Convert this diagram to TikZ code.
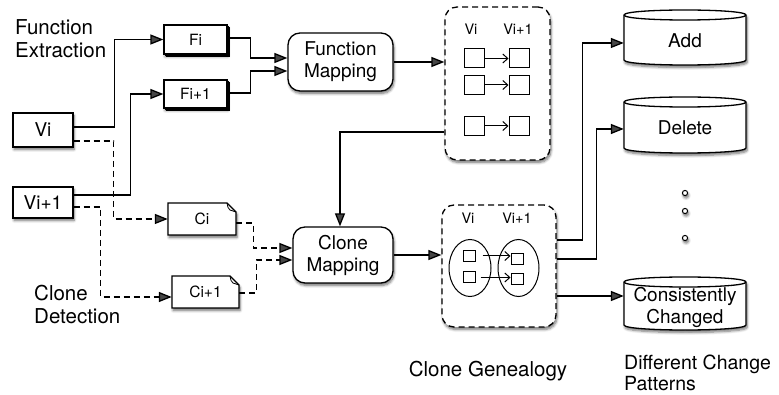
\documentclass[tikz,border=0pt]{standalone}
\usepackage{fontspec}
\setmainfont{TeX Gyre Heros}
\usetikzlibrary{arrows.meta,shadows,shadows.blur,shapes.geometric,calc}
\tikzset{
 shad/.style={blur shadow={shadow xshift=1pt, shadow yshift=-2.5pt, shadow blur steps=6, shadow opacity=55, shadow blur radius=2.5pt}},
 ln/.style={line width=1.3pt},
 arr/.style={ln, -{Triangle[length=13pt,width=10pt]}},
 darr/.style={arr, dash pattern=on 6pt off 4pt},
 barb/.style={line width=1pt, -{Straight Barb[length=5pt,width=9pt,line width=1pt]}},
 bigfont/.style={font=\fontsize{20.5}{23}\selectfont},
 boxfont/.style={font=\fontsize{19}{22}\selectfont},
 smallfont/.style={font=\fontsize{15.5}{18}\selectfont},
 tinyfont/.style={font=\fontsize{14.5}{16}\selectfont},
 vbox/.style={draw, ln, fill=white, shad, inner sep=0pt, boxfont},
 mdoc/.style={draw, ln, fill=white, shad, double copy shadow={shadow xshift=1.3pt, shadow yshift=-1.3pt}, inner sep=0pt, smallfont},
 docnode/.style={inner sep=0pt, smallfont},
 rbox/.style={draw, ln, fill=white, rounded corners=12pt, shad, align=center, inner sep=0pt, boxfont},
 cont/.style={draw, ln, dash pattern=on 6pt off 4pt, rounded corners=12pt, fill=white, shad, inner sep=0pt},
 sq/.style={draw, line width=1pt, fill=white, inner sep=0pt, minimum width=20pt, minimum height=19pt},
 sqs/.style={draw, line width=1pt, fill=white, inner sep=0pt, minimum width=12pt, minimum height=11pt},
 ell/.style={draw, ellipse, line width=1pt, inner sep=0pt},
 lbl/.style={inner sep=0pt, bigfont},
 cylnode/.style={inner sep=0pt, align=center, boxfont},
}
\newcommand\cylshape[4]{%
 \filldraw[ln, fill=white, shad] (#1,#2+5) -- (#1,#4-5) .. controls (#1,#4+1.67) and (#3,#4+1.67) .. (#3,#4-5) -- (#3,#2+5) .. controls (#3,#2-1.67) and (#1,#2-1.67) .. cycle;
 \draw[ln] (#1,#2+5) .. controls (#1,#2+11.67) and (#3,#2+11.67) .. (#3,#2+5);
}
\newcommand\docshape[4]{%
 \filldraw[ln, fill=white, shad] (#1,#4) -- (#1,#2) -- (#3-9,#2) -- (#3,#2+9) -- (#3,#4) -- cycle;
 \draw[line width=0.8pt] (#3-9,#2) .. controls (#3-8,#2+5) .. (#3-6,#2+7) -- (#3,#2+9);
}
\begin{document}
\begin{tikzpicture}[x=1pt,y=-1pt]
\useasboundingbox (0,0) rectangle (779,395);

% left labels
\node[lbl, anchor=west, align=left] (fe) at (15,38.5) {Function\\Extraction};
\node[lbl, anchor=west, align=left] (cd) at (34,304) {Clone\\Detection};

% versions
\node[vbox, minimum width=60pt, minimum height=34pt] (Vi) at (43,130) {Vi};
\node[vbox, minimum width=60pt, minimum height=31pt] (Vi1) at (43,202.5) {Vi+1};

% function files
\node[mdoc, minimum width=63pt, minimum height=29pt] (Fi) at (195.5,39.5) {Fi};
\node[mdoc, minimum width=63pt, minimum height=28pt] (Fi1) at (195.5,94) {Fi+1};

% clone files
\docshape{168}{203}{236}{235}
\node[docnode, minimum width=68pt, minimum height=32pt] (Ci) at (202,219) {Ci};
\docshape{172}{276}{239}{308}
\node[docnode, minimum width=67pt, minimum height=32pt] (Ci1) at (205.5,292) {Ci+1};

% mapping boxes
\node[rbox, minimum width=105pt, minimum height=58pt] (FM) at (340.5,62) {Function\\Mapping};
\node[rbox, minimum width=100pt, minimum height=56pt] (CM) at (343,255) {Clone\\Mapping};

% containers
\node[cont, minimum width=105pt, minimum height=153pt] (B1) at (497.5,83.5) {};
\node[cont, minimum width=114pt, minimum height=122pt] (B2) at (499,266) {};

% box 1 content
\node[tinyfont, inner sep=0pt] (b1vi) at (471,29) {Vi};
\node[tinyfont, inner sep=0pt] (b1vj) at (518,29) {Vi+1};
\node[sq] (a1) at (474,58.5) {};
\node[sq] (c1) at (519,58.5) {};
\node[sq] (a2) at (474,85) {};
\node[sq] (c2) at (519,85) {};
\node[sq] (a3) at (474,126) {};
\node[sq] (c3) at (519,126) {};
\draw[barb] (a1.east) -- (c1.west);
\draw[barb] (a2.east) -- (c2.west);
\draw[barb] (a3.east) -- (c3.west);

% box 2 content
\node[tinyfont, inner sep=0pt] (b2vi) at (468,218) {Vi};
\node[tinyfont, inner sep=0pt] (b2vj) at (517,218) {Vi+1};
\node[ell, minimum width=42pt, minimum height=57pt] (eL) at (470,268) {};
\node[ell, minimum width=41pt, minimum height=57pt] (eR) at (518.5,268) {};
\node[sqs] (p1) at (469,256) {};
\node[sqs] (p2) at (469,277.5) {};
\node[sqs] (q1) at (517,259) {};
\node[sqs] (q2) at (517,279) {};
\draw[barb] ([xshift=7pt]p1.east) -- (p1.east -| q1.west);
\draw[barb] ([xshift=5pt]p2.east) -- (p2.east -| q2.west);

% cylinders
\cylshape{624}{10}{746}{65}
\node[cylnode, minimum width=122pt, minimum height=40pt] (Add) at (685,41) {Add};
\cylshape{624}{97}{746}{153}
\node[cylnode, minimum width=122pt, minimum height=41pt] (Del) at (685,128) {Delete};
\cylshape{624}{277}{746}{330}
\node[cylnode, minimum width=122pt, minimum height=38pt] (CC) at (685,307) {Consistently\\Changed};

% dots
\foreach \yy in {193,211,238}{
 \draw[line width=1pt, fill=white, shad] (685,\yy) circle[radius=2.6pt];
}

% bottom labels
\node[lbl] (cg) at (488,371) {Clone Genealogy};
\node[lbl, anchor=west, align=left, font=\fontsize{19.5}{20.5}\selectfont] (dc) at (624,373) {Different Change\\Patterns};

% connectors
\draw[arr] ([yshift=3pt]Vi.east) -- ++(41,0) |- (Fi.west);
\draw[arr] ([yshift=7.5pt]Vi1.east) -- ++(57,0) |- (Fi1.west);
\draw[darr] ([yshift=-11pt]Vi.east) -- ++(40,0) |- (Ci.west);
\draw[darr] ([yshift=-4.5pt]Vi1.east) -- ++(27,0) |- ([yshift=-5pt]Ci1.west);

\draw[arr] ([yshift=1.5pt]Fi.east) -- ++(23,0) |- ([yshift=4pt]FM.west);
\draw[arr] ([yshift=1pt]Fi1.east) -- ++(23,0) |- ([yshift=-9pt]FM.west);
\draw[darr] ([yshift=-4pt]Ci.east) -- ++(17,0) |- ([yshift=7pt]CM.west);
\draw[darr] ([yshift=-1pt]Ci1.east) -- ++(17,0) |- ([yshift=-5pt]CM.west);

\draw[arr] (FM.east) -- (FM.east -| B1.west);
\draw[arr] ([yshift=-48.5pt]B1.west) -| ([xshift=-3pt]CM.north);
\draw[arr] (CM.east) -- (CM.east -| B2.west);

\draw[arr] ([yshift=26pt]B2.east) -- ++(26,0) |- ([yshift=-2pt]Add.west);
\draw[arr] ([yshift=7pt]B2.east) -- ++(40,0) |- ([yshift=-1pt]Del.west);
\draw[arr] ([yshift=-30pt]B2.east) -- ([yshift=-30pt]B2.east -| CC.west);
\end{tikzpicture}
\end{document}
